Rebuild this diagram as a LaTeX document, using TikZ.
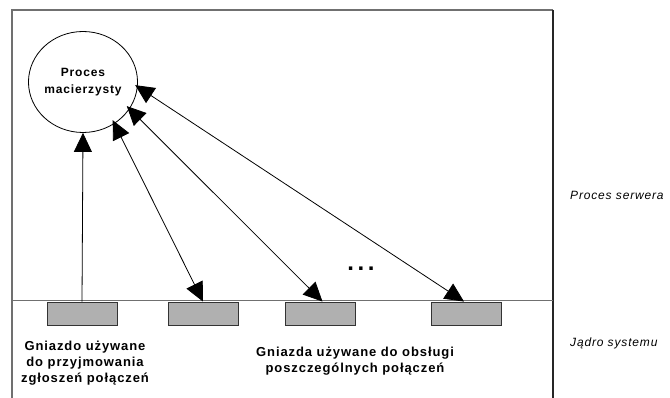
\documentclass[tikz,border=0pt]{standalone}
\usepackage{fontspec}
\setmainfont{Liberation Sans}[LetterSpace=7]
\usetikzlibrary{arrows.meta,shapes.geometric}
\definecolor{frame}{HTML}{707070}
\definecolor{sockfill}{HTML}{B0B0B0}
\tikzset{
  framel/.style={draw=frame,line width=1.5pt},
  sock/.style={draw=black!80,fill=sockfill,line width=0.9pt,minimum width=70pt,minimum height=23pt,inner sep=0pt},
  conn/.style={line width=0.8pt,-{Triangle[length=19pt,width=18pt]}},
  dconn/.style={line width=0.8pt,{Triangle[length=19pt,width=18pt]}-{Triangle[length=19pt,width=18pt]}},
  lab/.style={font=\fontsize{13}{15.8}\selectfont\bfseries,align=center,inner sep=0pt},
  side/.style={font=\fontsize{12}{14}\selectfont\itshape,anchor=base west,inner sep=0pt}
}
\begin{document}
\begin{tikzpicture}[x=1pt,y=-1pt]
\useasboundingbox (0,0) rectangle (670,398);
% frame
\draw[framel] (12,398) -- (12,10) -- (553,10);
\draw[line width=1.4pt,black!85] (553,10) -- (553,398);
\draw[framel] (12,300.5) -- (553,300.5);
% parent process
\node[ellipse,draw,line width=0.8pt,minimum width=93pt,minimum height=101pt,inner sep=0pt,
  font=\fontsize{12}{17}\selectfont\bfseries,align=center] (mp) at (83,82) {Proces\\macierzysty};
% sockets
\node[sock] (s1) at (82,313.5) {};
\node[sock] (s2) at (203,313.5) {};
\node[sock] (s3) at (320.5,313.5) {};
\node[sock] (s4) at (466.5,313.5) {};
% connectors
\draw[conn] (s1.north) -- (mp.south);
\draw[dconn,shorten <=-4pt] (mp.-53) -- (s2.north);
\draw[dconn,shorten <=-4pt] (mp.-30) -- ([xshift=2pt]s3.north);
\draw[dconn,shorten <=-3pt] (mp.-5) -- ([xshift=-2.5pt]s4.north);
% dots
\node[font=\fontsize{24}{24}\selectfont\bfseries,inner sep=0pt] (dots) at (361,269) {.\hspace{3.6pt}.\hspace{3.6pt}.};
% labels
\node[lab] (l1) at (85,363) {Gniazdo używane\\do przyjmowania\\zgłoszeń połączeń};
\node[lab] (l2) at (355,361) {Gniazda używane do obsługi\\poszczególnych połączeń};
\node[side] (ps) at (570,200) {Proces serwera};
\node[side] (js) at (570,347) {Jądro systemu};
\end{tikzpicture}
\end{document}
